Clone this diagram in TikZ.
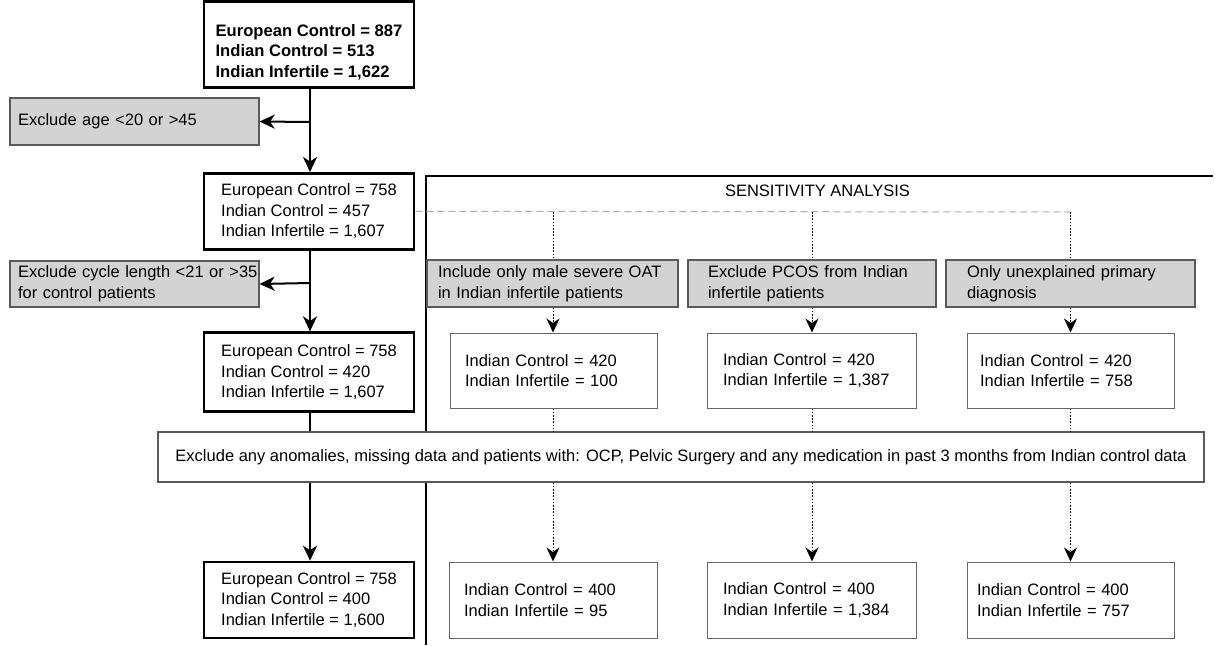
\documentclass[tikz,border=0pt]{standalone}
\usepackage{fontspec}
\setmainfont{Liberation Sans}
\usetikzlibrary{arrows.meta}
\definecolor{grayfill}{HTML}{D3D3D3}
\definecolor{grayline}{HTML}{5A5A5A}
\definecolor{boxline}{HTML}{666666}
\definecolor{dashcol}{HTML}{ADADAD}
\tikzset{
  base/.style={font=\fontsize{16.5}{20.6}\selectfont, align=left, inner ysep=0pt},
  mainbox/.style={base, draw=black, line width=2.6pt, fill=white, minimum width=210pt},
  exbox/.style={base, draw=grayline, line width=1.2pt, fill=grayfill},
  senbox/.style={base, draw=boxline, line width=1pt, fill=white},
  conn/.style={line width=2pt, -{Stealth[length=15pt,width=14pt,inset=4.5pt]}},
  plainconn/.style={line width=2pt},
  dotconn/.style={line width=0.9pt, dash pattern=on 1.6pt off 1.6pt},
  dotarrow/.style={dotconn, -{Stealth[length=14pt,width=13pt,inset=4.5pt]}},
  frameline/.style={line width=1.4pt},
  dashline/.style={draw=dashcol, line width=1pt, dash pattern=on 7pt off 4pt},
}
\begin{document}
\begin{tikzpicture}[x=1pt, y=-1pt]
\useasboundingbox (0,0) rectangle (1215,645);

% sensitivity frame
\coordinate (fTL) at (426,176);
\coordinate (fTR) at (1213,176);
\coordinate (fBL) at (426,645);
\draw[frameline] (fTR) -- (fTL) -- (fBL);
\node[base, align=center, inner sep=0pt] (sens) at (817.5,191) {SENSITIVITY ANALYSIS};

% left column
\node[mainbox, minimum height=85.6pt] (b1) at (309,44.5) {};
\node[base, font=\fontsize{16.6}{20.6}\selectfont\bfseries, inner sep=0pt] (b1t) at (309,52) {European Control = 887\\Indian Control = 513\\Indian Infertile = 1,622};
\node[exbox, minimum width=249pt, minimum height=47pt, text width=233pt, inner xsep=8pt] (g1) at (134.5,121.5) {Exclude age <20 or >45};
\node[mainbox, minimum height=76pt] (b2) at (309,211.3) {European Control = 758\\Indian Control = 457\\Indian Infertile = 1,607};
\node[exbox, minimum width=249pt, minimum height=46pt, text width=233pt, inner xsep=8pt] (g2) at (134.5,284) {\mbox{Exclude cycle length <21 or >35}\\for control patients};
\node[mainbox, minimum height=79pt] (b3) at (309,372.2) {European Control = 758\\Indian Control = 420\\Indian Infertile = 1,607};
\node[mainbox, minimum height=76pt] (b4) at (309,600) {European Control = 758\\Indian Control = 400\\Indian Infertile = 1,600};

% dashed branch
\coordinate (dA) at (553,212);
\coordinate (dB) at (812,212);
\coordinate (dC) at (1070.5,212);
\draw[dashline] (b2.east) -- (dC);

% sensitivity gray boxes
\node[exbox, minimum width=251pt, minimum height=47pt, text width=229pt, inner xsep=11pt] (ga) at (552.5,283.5) {Include only male severe OAT\\in Indian infertile patients};
\node[exbox, minimum width=248pt, minimum height=47pt, text width=208pt, inner xsep=20pt] (gb) at (812,283.5) {Exclude PCOS from Indian\\infertile patients};
\node[exbox, minimum width=249pt, minimum height=47pt, text width=207pt, inner xsep=21pt] (gc) at (1070.5,283.5) {Only unexplained primary\\diagnosis};

% sensitivity row 1
\node[senbox, minimum width=207pt, minimum height=75pt, text width=177pt, inner xsep=15pt] (wa) at (553.5,370.5) {Indian Control = 420\\Indian Infertile = 100};
\node[senbox, minimum width=209pt, minimum height=75pt, text width=177pt, inner xsep=16pt] (wb) at (811.5,370.5) {Indian Control = 420\\Indian Infertile = 1,387};
\node[senbox, minimum width=207pt, minimum height=75pt, text width=181pt, inner xsep=13pt] (wc) at (1070.5,370.5) {Indian Control = 420\\Indian Infertile = 758};

% sensitivity row 2
\node[senbox, minimum width=208pt, minimum height=76pt, text width=178pt, inner xsep=15pt] (va) at (553,600) {Indian Control = 400\\Indian Infertile = 95};
\node[senbox, minimum width=209pt, minimum height=76pt, text width=177pt, inner xsep=16pt] (vb) at (811.5,600) {Indian Control = 400\\Indian Infertile = 1,384};
\node[senbox, minimum width=207pt, minimum height=76pt, text width=187pt, inner xsep=10pt] (vc) at (1070.5,600) {Indian Control = 400\\Indian Infertile = 757};

% dotted connectors (upper)
\draw[dotconn] (dA) -- (dA |- ga.north);
\draw[dotconn] (dB) -- (dB |- gb.north);
\draw[dotconn] (dC) -- (dC |- gc.north);
\draw[dotarrow] (dA |- ga.south) -- (dA |- wa.north);
\draw[dotarrow] (dB |- gb.south) -- (dB |- wb.north);
\draw[dotarrow] (dC |- gc.south) -- (dC |- wc.north);

% main flow connectors
\coordinate (m1) at (310,122);
\coordinate (m2) at (310,283);
\draw[conn] (b1.south -| m1) -- (b2.north -| m1);
\draw[conn] (m1) -- (g1.east);
\draw[conn] (b2.south -| m2) -- (b3.north -| m2);
\draw[conn] (m2) -- (g2.east);

% big exclusion box
\node[base, draw=grayline, line width=1.2pt, fill=white, align=center, minimum width=1046pt, minimum height=50pt] (big) at (681,457) {Exclude any anomalies, missing data and patients with: OCP, Pelvic Surgery and any medication in past 3 months from Indian control data};

\draw[plainconn] (b3.south -| m2) -- (big.north -| m2);
\draw[conn] (big.south -| m2) -- (b4.north -| m2);
\draw[dotconn] (dA |- wa.south) -- (dA |- big.north);
\draw[dotconn] (dB |- wb.south) -- (dB |- big.north);
\draw[dotconn] (dC |- wc.south) -- (dC |- big.north);
\draw[dotarrow] (dA |- big.south) -- (dA |- va.north);
\draw[dotarrow] (dB |- big.south) -- (dB |- vb.north);
\draw[dotarrow] (dC |- big.south) -- (dC |- vc.north);
\end{tikzpicture}
\end{document}
